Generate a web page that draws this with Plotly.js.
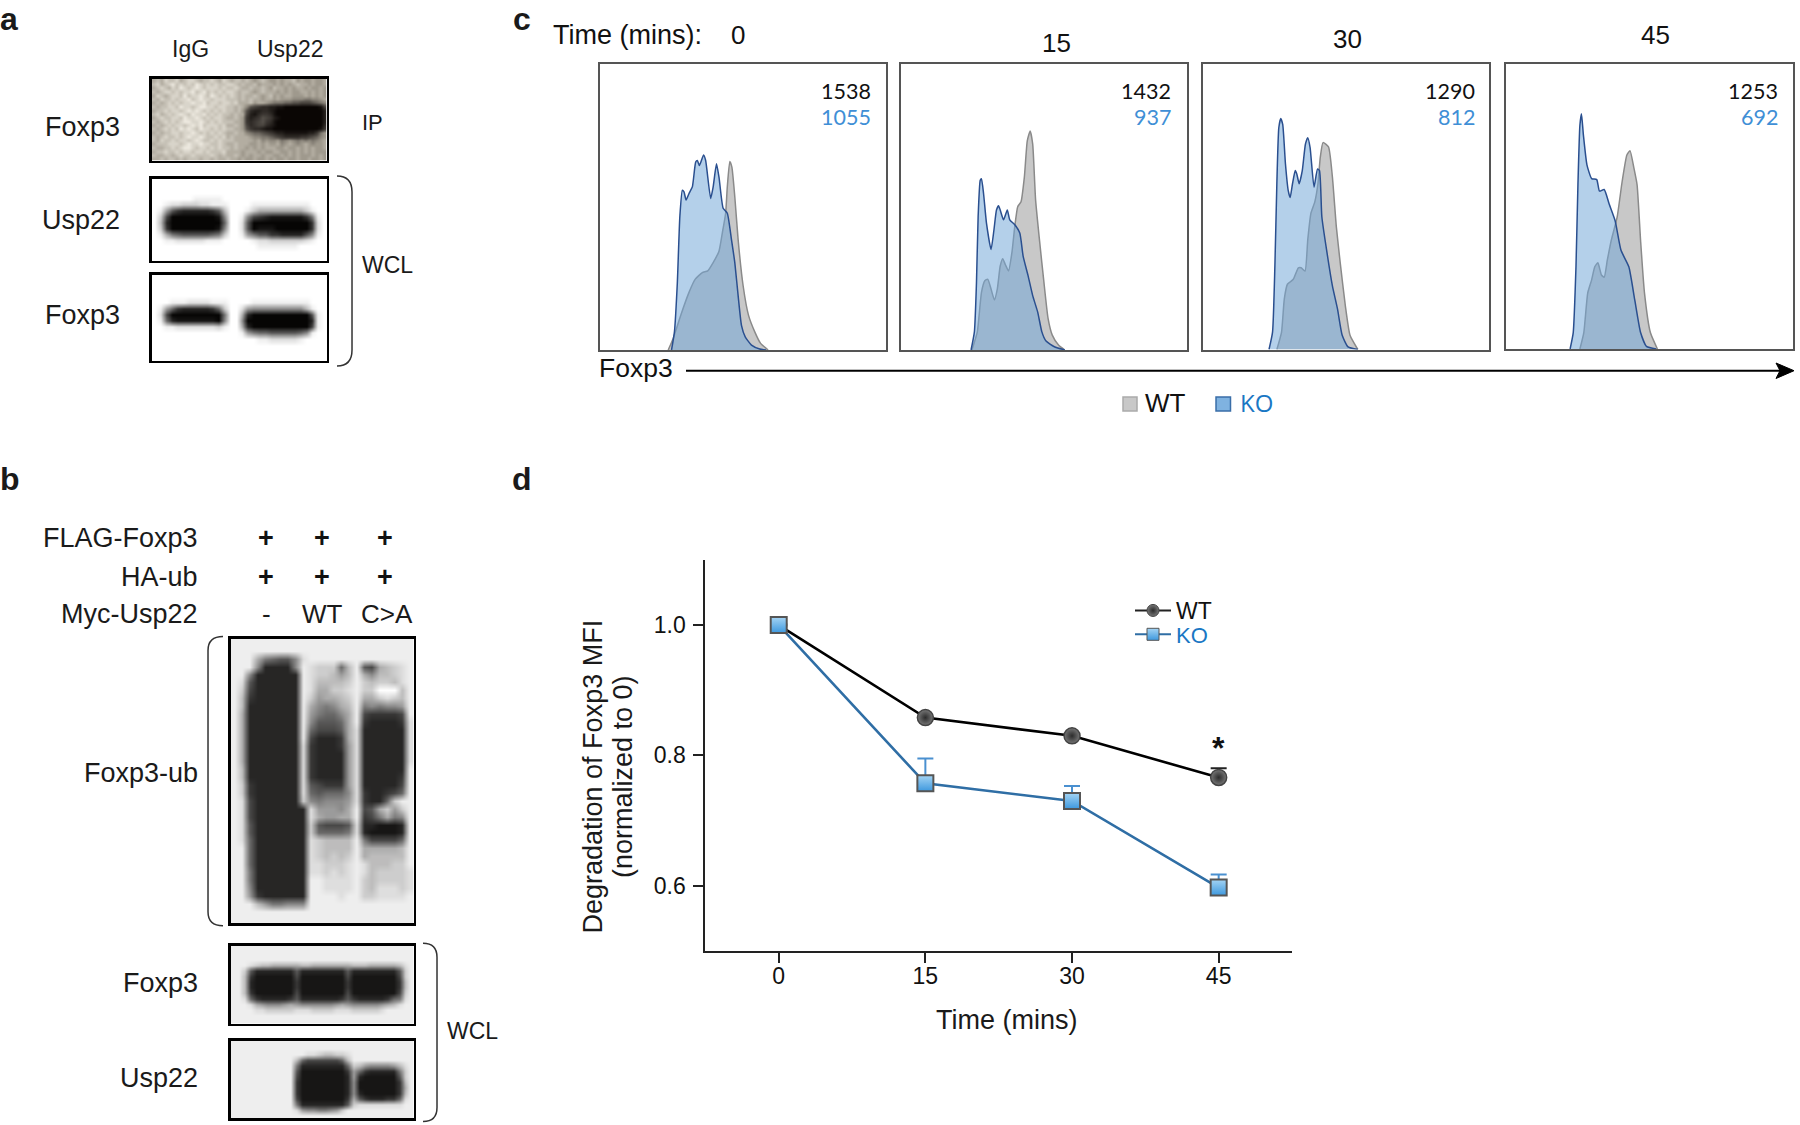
<!DOCTYPE html>
<html><head><meta charset="utf-8">
<script src="https://cdn.plot.ly/plotly-3.0.1.min.js"></script>
<style>html,body{margin:0;padding:0;background:#fff}</style></head>
<body><div id="chart" style="width:1800px;height:1125px"></div>
<script>
/* ---------- panel d : degradation curve ---------- */
const timeMins = [0, 15, 30, 45];
const wtDegradation = [1.0, 0.858, 0.83, 0.766];
const koDegradation = [1.0, 0.757, 0.73, 0.597];
const wtErrorUp = [0, 0, 0, 0.014];
const koErrorUp = [0, 0.038, 0.023, 0.02];

/* ---------- panel c : Foxp3 histograms, one WT and one KO per time point ---------- */
const histTimes = ['0', '15', '30', '45'];
const wtMFI = ['1538', '1432', '1290', '1253'];
const koMFI = ['1055', '937', '812', '692'];

const ko0x = [173,180,187,193,199,203,208,215,223,231,235,240,250,255,267,273,281,287,297,307,317,325,333,341,350,365,385,400];
const ko0y = [0,55,205,405,485,480,455,475,495,570,575,560,592,575,460,495,565,525,430,415,335,265,165,75,40,15,3,0];
const wt0x = [165,177,195,215,230,247,260,273,287,295,303,307,313,318,325,333,345,358,373,387,405];
const wt0y = [0,35,105,175,215,235,240,265,300,355,415,495,572,555,465,335,195,105,55,20,0];

const ko15x = [168,176,181,185,190,193,198,205,216,223,229,234,238,246,255,261,273,285,293,305,316,328,338,348,368,393];
const ko15y = [0,55,205,405,515,520,475,385,305,365,425,438,425,395,425,395,380,355,285,225,165,115,55,27,10,0];
const wt15x = [170,183,193,201,208,216,224,231,238,244,250,258,266,273,280,288,296,303,310,316,323,333,343,353,363,378,393];
const wt15y = [0,55,175,210,215,185,152,185,255,277,260,240,295,375,435,450,525,635,665,625,455,325,205,95,45,15,0];

const ko30x = [169,178,184,189,194,199,204,211,218,223,229,236,240,246,254,262,268,274,284,293,298,304,316,331,344,356,371,396];
const ko30y = [0,53,253,503,673,701,683,563,483,461,503,543,533,503,543,623,643,613,493,548,543,403,303,193,123,43,8,0];
const wt30x = [189,201,208,216,231,244,251,261,268,276,286,294,300,307,321,331,341,351,364,376,396];
const wt30y = [0,53,153,198,213,248,248,238,333,413,448,503,583,628,615,523,373,263,133,43,0];

const ko45x = [165,173,180,185,190,194,199,208,220,233,240,252,265,280,295,315,330,345,360,385];
const ko45y = [0,50,250,500,680,715,650,560,518,515,480,485,440,390,300,250,150,50,8,0];
const wt45x = [190,200,210,220,228,236,245,252,260,270,285,298,310,318,328,336,345,355,370,388];
const wt45y = [0,50,170,210,250,262,225,218,270,330,400,510,590,603,550,500,330,170,50,0];

const histX = [[wt0x,ko0x],[wt15x,ko15x],[wt30x,ko30x],[wt45x,ko45x]];
const histY = [[wt0y,ko0y],[wt15y,ko15y],[wt30y,ko30y],[wt45y,ko45y]];
const histRange = [687, 687, 732, 733];

/* ---------- panels a, b : blot densities, one hex digit per cell (0 black .. f white) ---------- */
const blotIP = [
 "bcbdc cdbcd dcbcc dcbdc bccbc babcb aabab bcaba abaab",
 "cdbcd ecdcd cedcd cdccd dcbcb bcabb babab abcbb abaab",
 "bcdcb dcedc dedcd ddcdc cdcbb cbbcb acbba babba baaba",
 "cbcdd cdcdd ecdec dcdcd dcbcc babcb bbaba baabb ababa",
 "bdcbc ddcec ddedc edcdc dcbcb bcbab cabab baaab ababa",
 "cbdcc dcdde cdedd cdddc ccbcb cbbab babaa a9998 899ab",
 "bcbcd cdcdd eddec ddcdd cdbbb cabba 98887 76655 56789",
 "cbccd dcedd cdeed dcddc cbcb9 65433 22110 00000 00015",
 "bccdc ddcde dedcd cdcdc cbca6 32233 21000 00000 00002",
 "cdbcd cdedc eddec dcdcc bcbb5 21344 31000 00000 00002",
 "bcdcc ddced dedcd cddcb bcba4 23465 42100 00000 00002",
 "cbcdc dcdee ddedc dcdcc cbba4 34564 31000 00000 00002",
 "bcbcd cddcd edecd ddcdb bcba5 34553 21000 00000 00003",
 "cbcdc dcede dcedd cdcdc cbba6 43321 10000 00000 00014",
 "bcbcc ddcdd edcdc dcdcb bcbb9 87765 43221 11111 2248a",
 "cbcdc cdcde ddedc cdcdb cbbbb a9988 76543 33344 5679a",
 "cbdcc dcddc dedcc dcdcc cbbbb bab9a 99a89 a9898 989ab",
 "bcccd ddcde ddedd ccdcb bcbbb aabab aab9a ba9ab a9aab",
 "cbbcc dcdee dcddc dcdcc bcbba babab bbaab aabab abaab",
 "bccdc cdcdd cddcd cccdb bbbab bbaba abbaa babab abaaa",
 "cbbcc bcdcc dcccc dcbcb bcbab abbab baaba babaa ababa",
 "bbcbc cbcbc ccbcc bcbbc bbaba abaab abaab aabaa baaba"];
const blotUsp22a = [
 "ffffff ffffff ffffff ffffff ffffff","ffffff ffffff ffffff ffffff ffffff",
 "ffffff ffffff ffffff ffffff ffffff","ffffff feeeee ffffff ffffff ffffff",
 "ffeddc ccddee effffe eeeeee eeefff","fe9532 222235 bfffec aaaaaa aaceff",
 "fc4000 000001 8ffe84 321111 1137ef","fb2000 000000 6ffd50 000000 0003df",
 "fc3000 000001 8ffd50 111000 0003df","fea765 555567 cffe97 553322 2258ef",
 "ffeedd dddeee fffffe ddcccc ccdeff","ffffff ffffff ffffff eeeeee efffff",
 "ffffff ffffff ffffff ffffff ffffff","ffffff ffffff ffffff ffffff ffffff"];
const blotFoxp3a = [
 "ffffff ffffff ffffff ffffff ffffff","ffffff ffffff ffffff ffffff ffffff",
 "ffffff ffffff ffffff ffffff ffffff","ffffff ffffff ffffff ffffff ffffff",
 "fffeee ddddee effffe eeeeee eeefff","fe9632 222236 cffd98 888888 88beff",
 "fd4000 000000 7ffa20 000000 0005ef","fe6211 111110 8ff800 000000 0002ef",
 "ffeedd dddddc effa20 000000 0004ef","ffffff ffffff fffe97 665555 568eff",
 "ffffff ffffff ffffff eedddd deffff","ffffff ffffff ffffff ffffff ffffff",
 "ffffff ffffff ffffff ffffff ffffff","ffffff ffffff ffffff ffffff ffffff"];
const blotFoxp3ub = [
 "eeeeee eeeeee eeeeee eeeeee","eeeeee eeeeee eeeeee eeeeee","eeea76 558dee eeeeee eeeeee",
 "eee822 228edc cc6be5 4abcde","ee8222 222edc cb9bea 8bbcde","ed5222 222edb bbbcec bccbde",
 "ec4222 222eda accdec cfffbe","eb3222 222ec9 aabcea acdcbe","eb2222 222ea8 78abe7 87889e",
 "ea2222 222e97 668ae4 33334e","ea2222 222e85 556ae3 22223d","ea2222 222e64 445ad2 22222d",
 "ea2222 222e42 223ad2 22222d","ea2222 222d32 2239d2 22222d","ea2222 222d32 2229d2 22222d",
 "ea2222 222d32 2229d2 22222d","eb2222 222d32 2229d2 22222e","eb2222 222d32 2229d2 22223e",
 "ec3222 222d54 3339d2 22224e","ec3222 222d65 6668d3 22346e","ed4222 222c87 8889d3 226cee",
 "ed4222 2222d9 998ae4 5ac9ce","ed4222 2222da 99aae3 47a78e","ed5222 2222c5 4445d2 21112e",
 "ed5222 2222c6 6667d2 11112e","ed6222 2222dc bbbbe7 44446e","ee6222 2222dc bbbbea aaaabe",
 "ee6222 2222dc bcbcea bbbbbe","ee6222 2222dd cccded bbbcce","ee7222 2222dd cdcded bccccd",
 "ee7222 2222ee ddddec bccccd","ee8222 2222ee ddddec bdddcd","ee9322 2222ee eedeec cdddde",
 "eeeb97 7888ee eeeeee eeeeee","eeeeee eeeeee eeeeee eeeeee","eeeeee eeeeee eeeeee eeeeee"];
const blotFoxp3b = [
 "eeeeeeee eeeeeeee eeeeeeee eeeeeeee","eeeeeeee eeeeeeee eeeeeeee eeeeeeee",
 "eeeeeeee eeeeeeee eeeeeeee eeeeeeee","eeedcbba aaaabbaa aaaaabbb aaaaabde",
 "eec52222 22252222 22225222 222225ce","eeb31111 11141111 11114111 111114ce",
 "eeb21111 11131111 11113111 111113be","eeb21111 11131111 11113111 111113be",
 "eeb31111 11141111 11114111 111114ce","eed63222 22352222 22235322 222367de",
 "eeeda988 89a98888 889a9888 889abdee","eeeeddcc cccdddcc ccdddccc ccdeeeee",
 "eeeeeeee eeeeeeee eeeeeeee eeeeeeee","eeeeeeee eeeeeeee eeeeeeee eeeeeeee"];
const blotUsp22b = [
 "eeeeeeee eeeeeeee eeeeeeee eeeeeeee","eeeeeeee eeeeeeee eeeeeeee eeeeeeee",
 "eeeeeeee eeeeeddc bbccdeee eeeeeeee","eeeeeeee eeeb6444 4446beee eeeeeeee",
 "eeeeeeee eee72222 22226cb9 88889bde","eeeeeeee eee51111 11113963 222227ce",
 "eeeeeeee eee41111 11112921 111115ce","eeeeeeee eee31111 11112811 111113be",
 "eeeeeeee eee31111 11112811 111113ae","eeeeeeee eee31111 11112821 111113be",
 "eeeeeeee eee41111 11113a53 222336de","eeeeeeee eee72222 22225cdd ddddddee",
 "eeeeeeee eeed9887 789ceeee eeeeeeee","eeeeeeee eeeeeeee eeeeeeee eeeeeeee"];

/* ---------- text ---------- */
const SANS = '"Liberation Sans", Arial, sans-serif';
const OPEN = '"Open Sans", sans-serif';
const LATO = 'Lato, sans-serif';
const INK = '#1a1a1a', KO_TEXT = '#1a77c4', KO_NUM = '#3f8fd6';

/* ---------- page geometry (pixels) ---------- */
const W = 1800, H = 1125;
const px = (x) => x / W, py = (y) => 1 - y / H;
const pt = (x, y) => px(x).toFixed(5) + ',' + py(y).toFixed(5);

const neutralScale = [[0, '#060504'], [1, '#ffffff']];
const ipScale = [[0, '#0a0604'], [0.4, '#55504a'], [0.67, '#a09a8e'], [0.93, '#ece8de'], [1, '#ffffff']];
const blots = [
  {z: blotIP,      box: [149, 76, 329, 163], scale: ipScale},
  {z: blotUsp22a,  box: [149, 176, 329, 263]},
  {z: blotFoxp3a,  box: [149, 272, 329, 363]},
  {z: blotFoxp3ub, box: [228, 636.4, 416, 925.7]},
  {z: blotFoxp3b,  box: [228, 943.3, 416, 1026]},
  {z: blotUsp22b,  box: [228, 1038, 416, 1120.7]}
];
const histBoxes = [[598, 62.5, 887, 351.5],[899.6, 62.5, 1188.7, 351.5],[1201.4, 62, 1490.8, 351],[1504, 62, 1794, 350.5]];
const mfiRight = [870, 1170, 1474.6, 1777];
const timeLabelPos = [[738.4, 35],[1056.6, 42.7],[1347, 39],[1655, 35]];

const traces = [], layout = {
  width: W, height: H, margin: {l: 0, r: 0, t: 0, b: 0}, autosize: false,
  paper_bgcolor: '#fff', plot_bgcolor: '#fff', showlegend: true,
  font: {family: SANS, color: INK},
  annotations: [], shapes: []
};
const hide = {showgrid: false, zeroline: false, ticks: '', showticklabels: false, fixedrange: true};
let axisNo = 2;

function addAxes(box, xr, yr, color, width, inset) {
  const n = axisNo++;
  layout['xaxis' + n] = Object.assign({}, hide, {domain: [px(box[0] + inset), px(box[2] - inset)], range: xr, anchor: 'y' + n,
    showline: true, mirror: true, linecolor: color, linewidth: width});
  layout['yaxis' + n] = Object.assign({}, hide, {domain: [py(box[3] - inset), py(box[1] + inset)], range: yr, anchor: 'x' + n,
    showline: true, mirror: true, linecolor: color, linewidth: width});
  return n;
}
/* annotations sit about 2.5 px inside their anchor: the nudge compensates for it */
function note(text, x, y, anchor, size, color, family, extra) {
  const dx = anchor === 'left' ? -2.5 : anchor === 'right' ? 2.5 : 0;
  return Object.assign({text: text, xref: 'paper', yref: 'paper', x: px(x + dx), y: py(y), xanchor: anchor, yanchor: 'middle',
    showarrow: false, font: {family: family || SANS, size: size, color: color || INK}}, extra || {});
}

/* blots */
blots.forEach((b) => {
  const z = b.z.map((r) => r.replace(/ /g, '').split('').map((c) => parseInt(c, 16)));
  const n = addAxes(b.box, [-0.5, z[0].length - 0.5], [z.length - 0.5, -0.5], '#000', 2.5, 2.5);
  traces.push({type: 'heatmap', z: z, xaxis: 'x' + n, yaxis: 'y' + n, zmin: 0, zmax: 15, zsmooth: 'best',
    colorscale: b.scale || neutralScale, showscale: false, hoverinfo: 'skip', showlegend: false});
});

/* histograms */
histBoxes.forEach((box, i) => {
  const n = addAxes(box, [0, histRange[i]], [0, 868], '#555', 2, 1.5);
  traces.push({type: 'scatter', mode: 'lines', x: histX[i][0], y: histY[i][0], xaxis: 'x' + n, yaxis: 'y' + n,
    fill: 'tozeroy', fillcolor: '#c8c8c8', line: {color: '#8a8a8a', width: 1.5, shape: 'spline', smoothing: 0.5},
    showlegend: false, name: 'WT ' + histTimes[i]});
  traces.push({type: 'scatter', mode: 'lines', x: histX[i][1], y: histY[i][1], xaxis: 'x' + n, yaxis: 'y' + n,
    fill: 'tozeroy', fillcolor: 'rgba(113,166,215,0.53)', line: {color: '#2a4f8f', width: 1.5, shape: 'spline', smoothing: 0.5},
    showlegend: false, name: 'KO ' + histTimes[i]});
  layout.annotations.push(
    note(wtMFI[i], mfiRight[i], 90.7, 'right', 21.5, '#111', LATO),
    note(koMFI[i], mfiRight[i], 116.9, 'right', 21.5, KO_NUM, LATO),
    note(histTimes[i], timeLabelPos[i][0], timeLabelPos[i][1], 'center', 26, '#111', SANS));
});

/* panel d */
const dBox = [705.4, 560, 1292, 950.7];
const tickFont = {family: SANS, size: 23, color: '#111'};
layout.xaxis = {domain: [px(dBox[0]), px(dBox[2])], range: [-7.5, 52.5], anchor: 'y', tickmode: 'array', tickvals: timeMins,
  ticktext: timeMins.map(String), ticks: 'outside', ticklen: 10, tickwidth: 2, tickcolor: '#222', showline: true, linecolor: '#222', linewidth: 2,
  showgrid: false, zeroline: false, fixedrange: true, tickfont: tickFont, ticklabelstandoff: -6};
layout.yaxis = {domain: [py(dBox[3]), py(dBox[1])], range: [0.5, 1.1], anchor: 'x', tickmode: 'array', tickvals: [0.6, 0.8, 1.0],
  ticktext: ['0.6', '0.8', '1.0'], ticks: 'outside', ticklen: 10, tickwidth: 2, tickcolor: '#222', showline: true, linecolor: '#222', linewidth: 2,
  showgrid: false, zeroline: false, fixedrange: true, tickfont: tickFont, ticklabelstandoff: 3};
traces.push({type: 'scatter', mode: 'lines+markers', name: 'WT curve', x: timeMins, y: wtDegradation, showlegend: false,
  line: {color: '#000', width: 2.6},
  marker: {symbol: 'circle', size: 16, color: '#777', gradient: {type: 'radial', color: '#2c2c2c'}, line: {color: '#444', width: 1.5}},
  error_y: {type: 'data', symmetric: false, array: wtErrorUp, arrayminus: [0, 0, 0, 0], color: '#222', thickness: 2, width: 8}});
traces.push({type: 'scatter', mode: 'lines+markers', name: 'KO curve', x: timeMins, y: koDegradation, showlegend: false,
  line: {color: '#2f6ea5', width: 2.6},
  marker: {symbol: 'square', size: 16, color: '#a4d4f4', gradient: {type: 'vertical', color: '#3d98de'}, line: {color: '#555', width: 2}},
  error_y: {type: 'data', symmetric: false, array: koErrorUp, arrayminus: [0, 0, 0, 0], color: '#4a90d0', thickness: 2, width: 8}});
/* legend keys carry the smaller key markers of the reference; two legends so their spacing can be set */
traces.push({type: 'scatter', mode: 'lines+markers', name: 'WT', x: [null], y: [null], legend: 'legend',
  line: {color: '#222', width: 2}, marker: {symbol: 'circle', size: 12, color: '#777', gradient: {type: 'radial', color: '#2c2c2c'}, line: {color: '#444', width: 1}}});
traces.push({type: 'scatter', mode: 'lines+markers', name: 'KO', x: [null], y: [null], legend: 'legend2',
  line: {color: '#2f6ea5', width: 2}, marker: {symbol: 'square', size: 12, color: '#a4d4f4', gradient: {type: 'vertical', color: '#3d98de'}, line: {color: '#555', width: 1}}});
const legendBase = {xanchor: 'left', yanchor: 'top', bgcolor: 'rgba(0,0,0,0)', borderwidth: 0, itemsizing: 'trace', itemwidth: 36};
layout.legend = Object.assign({}, legendBase, {x: px(1130), y: py(589), font: {family: SANS, size: 23, color: '#111'}});
layout.legend2 = Object.assign({}, legendBase, {x: px(1130), y: py(613.5), font: {family: SANS, size: 22, color: KO_TEXT}});
layout.annotations.push({text: '<b>*</b>', xref: 'x', yref: 'y', x: 45, y: 0.812, showarrow: false, xanchor: 'center', yanchor: 'middle',
  font: {family: SANS, size: 32, color: '#111'}});
layout.annotations.push(
  note('Degradation of Foxp3 MFI', 592.5, 777, 'center', 27, INK, SANS, {textangle: -90}),
  note('(normalized to 0)', 623, 777, 'center', 27, INK, SANS, {textangle: -90}),
  note('Time (mins)', 1007, 1020, 'center', 27, INK));

/* panel text */
[['a', 0, 19], ['b', 0, 479], ['c', 513, 19], ['d', 512, 479]].forEach((l) => {
  layout.annotations.push(note('<b>' + l[0] + '</b>', l[1], l[2], 'left', 32, '#1a1a1a'));
});
layout.annotations.push(
  note('IgG', 190, 49, 'center', 23), note('Usp22', 290, 49, 'center', 23),
  note('Foxp3', 119, 127, 'right', 27), note('Usp22', 119, 220, 'right', 27), note('Foxp3', 119, 315, 'right', 27),
  note('IP', 362, 122, 'left', 22), note('WCL', 362, 265, 'left', 23),
  note('FLAG-Foxp3', 197, 538.2, 'right', 27), note('HA-ub', 197, 576.6, 'right', 27), note('Myc-Usp22', 197, 614, 'right', 27),
  note('-', 266, 614, 'center', 26), note('WT', 322, 614, 'center', 26), note('C&gt;A', 387, 614, 'center', 26),
  note('Foxp3-ub', 197, 772.9, 'right', 27), note('Foxp3', 197, 982.5, 'right', 27), note('Usp22', 197, 1077.6, 'right', 27),
  note('WCL', 447, 1031, 'left', 23),
  note('Time (mins):', 553.5, 35, 'left', 27, '#111'),
  note('Foxp3', 599, 368, 'left', 26.5, '#111'),
  note('WT', 1145, 402.7, 'left', 26, '#111'),
  note('KO', 1240, 402.7, 'left', 24, KO_TEXT, OPEN));
[266, 322, 385].forEach((x) => {
  layout.annotations.push(note('<b>+</b>', x, 538.2, 'center', 27, '#111'), note('<b>+</b>', x, 576.6, 'center', 27, '#111'));
});

/* brackets, arrow and legend swatches for panel c */
const paperShape = (path, line, fill) => ({type: 'path', xref: 'paper', yref: 'paper', path: path,
  line: line, fillcolor: fill || 'rgba(0,0,0,0)'});
const thin = {color: '#333', width: 1.5};
const rightBracket = (x0, x1, t, b, r) => 'M' + pt(x0, t) + ' Q' + pt(x1, t) + ' ' + pt(x1, t + r) + ' L' + pt(x1, b - r) + ' Q' + pt(x1, b) + ' ' + pt(x0, b);
layout.shapes.push(
  paperShape(rightBracket(337, 352, 176, 366, 16), thin),
  paperShape(rightBracket(223, 208, 636.4, 925.7, 14), thin),
  paperShape(rightBracket(423, 437, 943.3, 1121.5, 14), thin),
  paperShape('M' + pt(686, 370.7) + ' L' + pt(1780, 370.7), {color: '#000', width: 2}),
  paperShape('M' + pt(1776, 363) + ' L' + pt(1794, 370.7) + ' L' + pt(1776, 378.5) + ' L' + pt(1780, 370.7) + ' Z', {color: '#000', width: 1}, '#000'),
  paperShape('M' + pt(1123, 397) + ' L' + pt(1137, 397) + ' L' + pt(1137, 411) + ' L' + pt(1123, 411) + ' Z', {color: '#aaa', width: 1.5}, '#c8c8c8'),
  paperShape('M' + pt(1216, 397) + ' L' + pt(1230.5, 397) + ' L' + pt(1230.5, 411) + ' L' + pt(1216, 411) + ' Z', {color: '#3a6ea8', width: 1.5}, '#7fb2e0')
);

Plotly.newPlot('chart', traces, layout, {displayModeBar: false, staticPlot: true});
</script></body></html>
